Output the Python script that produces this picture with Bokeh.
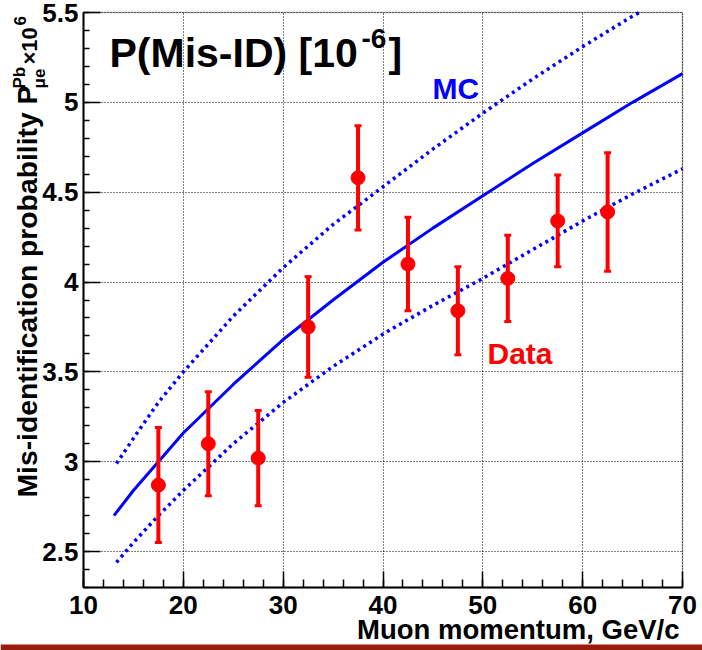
import math
from bokeh.plotting import figure
from bokeh.models import Range1d, FixedTicker, Label, ColumnDataSource, BoxAnnotation
from bokeh.embed import file_html
from bokeh.resources import INLINE

# ---------------- data ----------------
momentum = [17.5, 22.5, 27.5, 32.5, 37.5, 42.5, 47.5, 52.5, 57.5, 62.5]
misid = [2.87, 3.10, 3.02, 3.75, 4.58, 4.10, 3.84, 4.02, 4.34, 4.39]
misid_err = [0.32, 0.29, 0.265, 0.28, 0.29, 0.26, 0.245, 0.24, 0.255, 0.33]

mc_momentum = [13.05, 15, 17.5, 20, 25, 30, 35, 40, 45, 50, 55, 60, 65, 70]
mc_central = [2.70, 2.84, 3.00, 3.16, 3.43, 3.68, 3.90, 4.11, 4.30, 4.48, 4.66, 4.83, 5.00, 5.16]

mc_upper_momentum = [13.3, 15, 17.5, 20, 25, 30, 35, 40, 45, 50, 55, 60, 65, 65.7]
mc_upper = [2.99, 3.13, 3.33, 3.50, 3.81, 4.08, 4.32, 4.53, 4.74, 4.94, 5.13, 5.31, 5.48, 5.50]

mc_lower_momentum = [13.3, 15, 17.5, 20, 25, 30, 35, 40, 45, 50, 55, 60, 65, 70]
mc_lower = [2.44, 2.55, 2.70, 2.84, 3.10, 3.33, 3.53, 3.71, 3.87, 4.02, 4.18, 4.34, 4.49, 4.63]

x_ticks = [10, 20, 30, 40, 50, 60, 70]
x_tick_labels = ["10", "20", "30", "40", "50", "60", "70"]
y_ticks = [2.5, 3.0, 3.5, 4.0, 4.5, 5.0, 5.5]
y_tick_labels = ["2.5", "3", "3.5", "4", "4.5", "5", "5.5"]

X0, X1 = 10, 70
Y0, Y1 = 2.3, 5.5

# ---------------- geometry ----------------
W, H = 702, 650
FL, FT, FR, FB = 83, 12, 682, 587   # visible plot box, canvas pixels
SX = (X1 - X0) / (FR - FL)
SY = (Y1 - Y0) / (FB - FT)
xr = Range1d(X0 - FL * SX, X1 + (W - FR) * SX)
yr = Range1d(Y0 - (H - FB) * SY, Y1 + FT * SY)

FONT = "Liberation Sans"
RED = "#ff0000"
BLUE = "#0000ff"

p = figure(width=W, height=H, output_backend="svg", toolbar_location=None,
           x_range=xr, y_range=yr,
           min_border_left=0, min_border_right=0,
           min_border_top=0, min_border_bottom=0)
p.title.visible = False
p.background_fill_color = "white"
p.border_fill_color = "white"
p.outline_line_color = None

x_minor = [X0 + 2 * i for i in range(int((X1 - X0) / 2) + 1)]
y_minor = [round(Y0 + 0.1 * i, 2) for i in range(int(round((Y1 - Y0) / 0.1)) + 1)]

p.xaxis.ticker = FixedTicker(ticks=x_ticks, minor_ticks=x_minor)
p.yaxis.ticker = FixedTicker(ticks=y_ticks, minor_ticks=y_minor)
p.xaxis.major_label_overrides = {t: l for t, l in zip(x_ticks, x_tick_labels)}
p.yaxis.major_label_overrides = {t: l for t, l in zip(y_ticks, y_tick_labels)}

p.xaxis.fixed_location = Y0
p.yaxis.fixed_location = X0
p.xaxis.bounds = (X0, X1)
p.yaxis.bounds = (Y0, Y1)

for ax in (p.xaxis, p.yaxis):
    ax.axis_line_color = "black"
    ax.axis_line_width = 2
    ax.major_tick_line_color = "black"
    ax.minor_tick_line_color = "black"
    ax.major_tick_line_width = 1.5
    ax.minor_tick_line_width = 1.5
    ax.major_tick_out = 0
    ax.minor_tick_out = 0
    ax.major_label_text_font = FONT
    ax.major_label_text_font_style = "bold"
    ax.major_label_text_font_size = "26px"
    ax.major_label_text_color = "black"

p.xaxis.major_label_standoff = 8
p.yaxis.major_label_standoff = 5
p.xaxis.major_tick_in = 16
p.xaxis.minor_tick_in = 8
p.yaxis.major_tick_in = 17
p.yaxis.minor_tick_in = 6

p.xgrid.bounds = (X0, X1)
p.xgrid.cross_bounds = (Y0, Y1)
p.ygrid.bounds = (Y0, Y1)
p.ygrid.cross_bounds = (X0, X1)
for g in (p.xgrid, p.ygrid):
    g.grid_line_color = "black"
    g.grid_line_dash = "1 2"
    g.grid_line_width = 1
    g.grid_line_alpha = 1.0

# frame box (top / right edges)
p.add_layout(BoxAnnotation(left=X0, right=X1, bottom=Y0, top=Y1,
                           fill_alpha=0, line_color="black", line_width=1.5))

# ---------------- MC curves ----------------
p.line(mc_momentum, mc_central, line_color=BLUE, line_width=3)
p.line(mc_upper_momentum, mc_upper, line_color=BLUE, line_width=3.5, line_dash="3 4")
p.line(mc_lower_momentum, mc_lower, line_color=BLUE, line_width=3.5, line_dash="3 4")

# ---------------- data ----------------
src = ColumnDataSource(dict(
    x=momentum, y=misid,
    lo=[v - e for v, e in zip(misid, misid_err)],
    hi=[v + e for v, e in zip(misid, misid_err)],
))
p.segment(x0="x", y0="lo", x1="x", y1="hi", source=src, line_color=RED, line_width=4)
p.scatter(x="x", y="lo", source=src, marker="dash", size=7, line_color=RED, line_width=3)
p.scatter(x="x", y="hi", source=src, marker="dash", size=7, line_color=RED, line_width=3)
p.scatter(x="x", y="y", source=src, marker="circle", size=14, fill_color=RED, line_color=RED)


# ---------------- text ----------------
def dx(px):
    return xr.start + px * SX


def dy(py):
    return yr.end - py * SY


K = 0.35  # correction of the rendered baseline (fraction of font size)


def lab(text, px, py, size, color="black", angle=0.0, align="left"):
    if angle == 0.0:
        py = py - K * size
    else:
        px = px - K * size
    p.add_layout(Label(x=dx(px), y=dy(py), text=text, text_font=FONT,
                       text_font_style="bold", text_font_size=f"{size}px",
                       text_color=color, angle=angle, text_align=align,
                       text_baseline="alphabetic"))


# bottom bar of the slide
p.add_layout(BoxAnnotation(left=xr.start, right=xr.end, bottom=yr.start, top=dy(644),
                           fill_color="#9a1b0c", fill_alpha=1, line_color=None))

# title
lab("P(Mis-ID) [10", 109, 67, 41)
lab("-6", 361, 48, 28)
lab("]", 388, 67, 41)

lab("MC", 432, 98, 30, BLUE)
lab("Data", 487, 363, 30, RED)

# x axis title
lab("Muon momentum, GeV/c", 679, 639, 27.5, align="right")

# y axis title (rotated)
R = math.pi / 2
lab("Mis-identification probability P", 36.5, 497, 28.3, angle=R)
lab("Pb", 25, 88, 17, angle=R)
lab("\u03bce", 45, 88, 17, angle=R)
lab("\u00d710", 37, 64, 22, angle=R)
lab("6", 25, 25, 17, angle=R)

open("out.html", "w").write(file_html(p, INLINE))
